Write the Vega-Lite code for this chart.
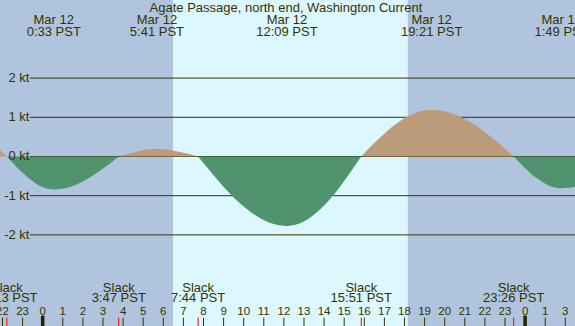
{
  "$schema": "https://vega.github.io/schema/vega-lite/v6.json",
  "width": 575,
  "height": 326,
  "autosize": {"type": "none"},
  "padding": 0,
  "background": "#b0c4de",
  "config": {"view": {"stroke": null}, "text": {"font": "Liberation Sans", "color": "#333300"}},
  "datasets": {
    "periods": [
      {"start": -2.3, "end": 6.48, "kind": "night"},
      {"start": 6.48, "end": 18.17, "kind": "day"},
      {"start": 18.17, "end": 26.6, "kind": "night"}
    ],
    "levels": [
      {"kt": 2, "label": "2 kt"},
      {"kt": 1, "label": "1 kt"},
      {"kt": 0, "label": "0 kt"},
      {"kt": -1, "label": "-1 kt"},
      {"kt": -2, "label": "-2 kt"}
    ],
    "curve": [
      {"seg": 1, "dir": "flood", "t": -2.3, "v": 0.24},
      {"seg": 1, "dir": "flood", "t": -2.12, "v": 0.16},
      {"seg": 1, "dir": "flood", "t": -1.78, "v": 0},
      {"seg": 2, "dir": "ebb", "t": -1.78, "v": 0},
      {"seg": 2, "dir": "ebb", "t": -1.2, "v": -0.32},
      {"seg": 2, "dir": "ebb", "t": -0.61, "v": -0.59},
      {"seg": 2, "dir": "ebb", "t": -0.03, "v": -0.78},
      {"seg": 2, "dir": "ebb", "t": 0.55, "v": -0.84},
      {"seg": 2, "dir": "ebb", "t": 1.36, "v": -0.78},
      {"seg": 2, "dir": "ebb", "t": 2.17, "v": -0.59},
      {"seg": 2, "dir": "ebb", "t": 2.97, "v": -0.32},
      {"seg": 2, "dir": "ebb", "t": 3.78, "v": 0},
      {"seg": 3, "dir": "flood", "t": 3.78, "v": 0},
      {"seg": 3, "dir": "flood", "t": 4.26, "v": 0.07},
      {"seg": 3, "dir": "flood", "t": 4.73, "v": 0.13},
      {"seg": 3, "dir": "flood", "t": 5.21, "v": 0.18},
      {"seg": 3, "dir": "flood", "t": 5.68, "v": 0.19},
      {"seg": 3, "dir": "flood", "t": 6.19, "v": 0.18},
      {"seg": 3, "dir": "flood", "t": 6.71, "v": 0.13},
      {"seg": 3, "dir": "flood", "t": 7.22, "v": 0.07},
      {"seg": 3, "dir": "flood", "t": 7.73, "v": 0},
      {"seg": 4, "dir": "ebb", "t": 7.73, "v": 0},
      {"seg": 4, "dir": "ebb", "t": 8.47, "v": -0.46},
      {"seg": 4, "dir": "ebb", "t": 9.2, "v": -0.885},
      {"seg": 4, "dir": "ebb", "t": 9.94, "v": -1.25},
      {"seg": 4, "dir": "ebb", "t": 10.68, "v": -1.53},
      {"seg": 4, "dir": "ebb", "t": 11.41, "v": -1.71},
      {"seg": 4, "dir": "ebb", "t": 12.15, "v": -1.77},
      {"seg": 4, "dir": "ebb", "t": 12.77, "v": -1.71},
      {"seg": 4, "dir": "ebb", "t": 13.38, "v": -1.53},
      {"seg": 4, "dir": "ebb", "t": 14.0, "v": -1.25},
      {"seg": 4, "dir": "ebb", "t": 14.62, "v": -0.885},
      {"seg": 4, "dir": "ebb", "t": 15.23, "v": -0.46},
      {"seg": 4, "dir": "ebb", "t": 15.85, "v": 0},
      {"seg": 5, "dir": "flood", "t": 15.85, "v": 0},
      {"seg": 5, "dir": "flood", "t": 16.43, "v": 0.31},
      {"seg": 5, "dir": "flood", "t": 17.02, "v": 0.595},
      {"seg": 5, "dir": "flood", "t": 17.6, "v": 0.84},
      {"seg": 5, "dir": "flood", "t": 18.18, "v": 1.03},
      {"seg": 5, "dir": "flood", "t": 18.77, "v": 1.15},
      {"seg": 5, "dir": "flood", "t": 19.35, "v": 1.19},
      {"seg": 5, "dir": "flood", "t": 20.03, "v": 1.15},
      {"seg": 5, "dir": "flood", "t": 20.71, "v": 1.03},
      {"seg": 5, "dir": "flood", "t": 21.39, "v": 0.84},
      {"seg": 5, "dir": "flood", "t": 22.07, "v": 0.595},
      {"seg": 5, "dir": "flood", "t": 22.75, "v": 0.31},
      {"seg": 5, "dir": "flood", "t": 23.43, "v": 0},
      {"seg": 6, "dir": "ebb", "t": 23.43, "v": 0},
      {"seg": 6, "dir": "ebb", "t": 24.03, "v": -0.31},
      {"seg": 6, "dir": "ebb", "t": 24.63, "v": -0.57},
      {"seg": 6, "dir": "ebb", "t": 25.22, "v": -0.75},
      {"seg": 6, "dir": "ebb", "t": 25.82, "v": -0.81},
      {"seg": 6, "dir": "ebb", "t": 26.2, "v": -0.8},
      {"seg": 6, "dir": "ebb", "t": 26.6, "v": -0.76}
    ],
    "maxima": [
      {"t": 0.55, "date": "Mar 12", "time": "0:33 PST"},
      {"t": 5.683, "date": "Mar 12", "time": "5:41 PST"},
      {"t": 12.15, "date": "Mar 12", "time": "12:09 PST"},
      {"t": 19.35, "date": "Mar 12", "time": "19:21 PST"},
      {"t": 25.817, "date": "Mar 13", "time": "1:49 PST"}
    ],
    "slacks": [
      {"t": -1.783, "name": "Slack", "time": "22:13 PST"},
      {"t": 3.783, "name": "Slack", "time": "3:47 PST"},
      {"t": 7.733, "name": "Slack", "time": "7:44 PST"},
      {"t": 15.85, "name": "Slack", "time": "15:51 PST"},
      {"t": 23.433, "name": "Slack", "time": "23:26 PST"}
    ],
    "hours": [
      {"t": -2, "label": "22", "midnight": false},
      {"t": -1, "label": "23", "midnight": false},
      {"t": 0, "label": "0", "midnight": true},
      {"t": 1, "label": "1", "midnight": false},
      {"t": 2, "label": "2", "midnight": false},
      {"t": 3, "label": "3", "midnight": false},
      {"t": 4, "label": "4", "midnight": false},
      {"t": 5, "label": "5", "midnight": false},
      {"t": 6, "label": "6", "midnight": false},
      {"t": 7, "label": "7", "midnight": false},
      {"t": 8, "label": "8", "midnight": false},
      {"t": 9, "label": "9", "midnight": false},
      {"t": 10, "label": "10", "midnight": false},
      {"t": 11, "label": "11", "midnight": false},
      {"t": 12, "label": "12", "midnight": false},
      {"t": 13, "label": "13", "midnight": false},
      {"t": 14, "label": "14", "midnight": false},
      {"t": 15, "label": "15", "midnight": false},
      {"t": 16, "label": "16", "midnight": false},
      {"t": 17, "label": "17", "midnight": false},
      {"t": 18, "label": "18", "midnight": false},
      {"t": 19, "label": "19", "midnight": false},
      {"t": 20, "label": "20", "midnight": false},
      {"t": 21, "label": "21", "midnight": false},
      {"t": 22, "label": "22", "midnight": false},
      {"t": 23, "label": "23", "midnight": false},
      {"t": 24, "label": "0", "midnight": true},
      {"t": 25, "label": "1", "midnight": false},
      {"t": 26, "label": "3", "midnight": false}
    ],
    "title": [{"t": 12.1, "text": "Agate Passage, north end, Washington Current"}]
  },
  "layer": [
    {
      "data": {"name": "periods"},
      "mark": {"type": "rect", "clip": true},
      "encoding": {
        "x": {"field": "start", "type": "quantitative", "scale": {"domain": [-2.124, 26.483], "nice": false, "zero": false}, "axis": null},
        "x2": {"field": "end"},
        "color": {"field": "kind", "type": "nominal", "scale": {"domain": ["night", "day", "flood", "ebb"], "range": ["#b0c4de", "#ddf7ff", "#bc9b7a", "#50946f"]}, "legend": null}
      }
    },
    {
      "data": {"name": "levels"},
      "mark": {"type": "rule", "color": "#333300", "strokeWidth": 1},
      "encoding": {
        "y": {"field": "kt", "type": "quantitative", "scale": {"domain": [-4.324, 3.992], "nice": false, "zero": false}, "axis": null},
        "x": {"datum": -0.64},
        "x2": {"datum": 26.483}
      }
    },
    {
      "data": {"name": "curve"},
      "mark": {"type": "area", "interpolate": "monotone", "clip": true},
      "encoding": {
        "x": {"field": "t", "type": "quantitative"},
        "y": {"field": "v", "type": "quantitative"},
        "y2": {"datum": 0},
        "color": {"field": "dir", "type": "nominal", "legend": null},
        "detail": {"field": "seg", "type": "nominal"}
      }
    },
    {
      "data": {"name": "levels"},
      "mark": {"type": "text", "align": "right", "baseline": "middle", "fontSize": 13},
      "encoding": {
        "y": {"field": "kt", "type": "quantitative"},
        "x": {"datum": -0.66},
        "text": {"field": "label"}
      }
    },
    {
      "data": {"name": "title"},
      "mark": {"type": "text", "align": "center", "baseline": "alphabetic", "fontSize": 13},
      "encoding": {
        "x": {"field": "t", "type": "quantitative"},
        "y": {"datum": 3.694},
        "text": {"field": "text"}
      }
    },
    {
      "data": {"name": "maxima"},
      "mark": {"type": "text", "align": "center", "baseline": "alphabetic", "fontSize": 13},
      "encoding": {
        "x": {"field": "t", "type": "quantitative"},
        "y": {"datum": 3.38},
        "text": {"field": "date"}
      }
    },
    {
      "data": {"name": "maxima"},
      "mark": {"type": "text", "align": "center", "baseline": "alphabetic", "fontSize": 13},
      "encoding": {
        "x": {"field": "t", "type": "quantitative"},
        "y": {"datum": 3.082},
        "text": {"field": "time"}
      }
    },
    {
      "data": {"name": "slacks"},
      "mark": {"type": "text", "align": "center", "baseline": "alphabetic", "fontSize": 13},
      "encoding": {
        "x": {"field": "t", "type": "quantitative"},
        "y": {"datum": -3.464},
        "text": {"field": "name"}
      }
    },
    {
      "data": {"name": "slacks"},
      "mark": {"type": "text", "align": "center", "baseline": "alphabetic", "fontSize": 13},
      "encoding": {
        "x": {"field": "t", "type": "quantitative"},
        "y": {"datum": -3.717},
        "text": {"field": "time"}
      }
    },
    {
      "data": {"name": "hours"},
      "mark": {"type": "text", "align": "center", "baseline": "alphabetic", "fontSize": 11.5},
      "encoding": {
        "x": {"field": "t", "type": "quantitative"},
        "y": {"datum": -4.043},
        "text": {"field": "label"}
      }
    },
    {
      "data": {"name": "hours"},
      "transform": [{"filter": "!datum.midnight"}],
      "mark": {"type": "rule", "color": "#333300", "strokeWidth": 1},
      "encoding": {
        "x": {"field": "t", "type": "quantitative"},
        "y": {"datum": -4.112},
        "y2": {"datum": -4.324}
      }
    },
    {
      "data": {"name": "hours"},
      "transform": [{"filter": "datum.midnight"}],
      "mark": {"type": "rule", "color": "#222200", "strokeWidth": 3.5},
      "encoding": {
        "x": {"field": "t", "type": "quantitative"},
        "y": {"datum": -4.06},
        "y2": {"datum": -4.324}
      }
    },
    {
      "data": {"name": "slacks"},
      "mark": {"type": "rule", "color": "#ff0000", "strokeWidth": 1},
      "encoding": {
        "x": {"field": "t", "type": "quantitative"},
        "y": {"datum": -4.112},
        "y2": {"datum": -4.324}
      }
    }
  ]
}
